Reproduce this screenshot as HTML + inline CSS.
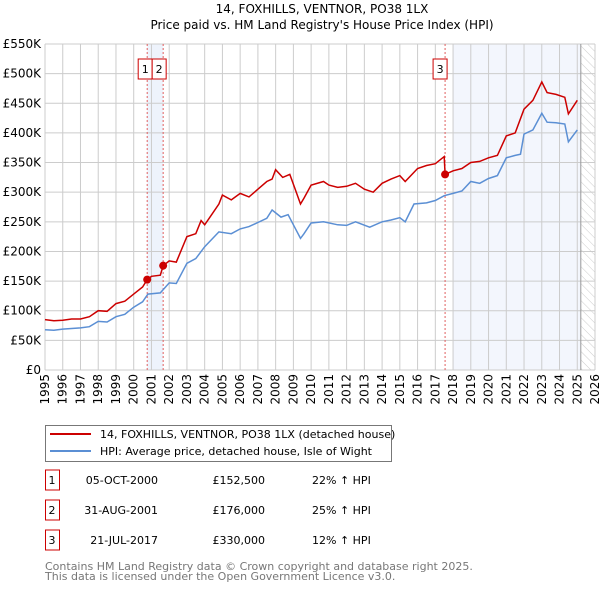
<!DOCTYPE html>
<html><head><meta charset="utf-8"><style>
body{margin:0;background:#fff;font-family:"DejaVu Sans","Liberation Sans",sans-serif;}
svg text{font-family:"DejaVu Sans","Liberation Sans",sans-serif;}
</style></head><body>
<svg id="chart" width="600" height="590" xmlns="http://www.w3.org/2000/svg">
<defs><pattern id="hatch" width="6" height="6" patternUnits="userSpaceOnUse" patternTransform="rotate(-45)"><line x1="0" y1="0" x2="0" y2="6" stroke="#ccc" stroke-width="1"/></pattern></defs>
<text x="322" y="13" text-anchor="middle" font-size="12">14, FOXHILLS, VENTNOR, PO38 1LX</text>
<text x="322" y="29" text-anchor="middle" font-size="12">Price paid vs. HM Land Registry's House Price Index (HPI)</text>
<g id="bg"></g><g id="grid"></g><g id="series"></g><g id="axes"></g>
<g>
<rect x="45.5" y="425.5" width="346" height="36" fill="#fff" stroke="#777"/>
<line x1="50" y1="434" x2="91" y2="434" stroke="#cc0000" stroke-width="2"/>
<text x="100" y="438" font-size="11">14, FOXHILLS, VENTNOR, PO38 1LX (detached house)</text>
<line x1="50" y1="451" x2="91" y2="451" stroke="#5b8fd4" stroke-width="2"/>
<text x="100" y="455" font-size="11">HPI: Average price, detached house, Isle of Wight</text>
</g>
<g id="table" font-size="11"></g>
<text x="45" y="570" font-size="11" fill="#777">Contains HM Land Registry data © Crown copyright and database right 2025.</text>
<text x="45" y="580" font-size="11" fill="#777">This data is licensed under the Open Government Licence v3.0.</text>
</svg>
<script>
const yTickValues=[0,50,100,150,200,250,300,350,400,450,500,550];
const yTickLabels=["£0","£50K","£100K","£150K","£200K","£250K","£300K","£350K","£400K","£450K","£500K","£550K"];
const xTickYears=[1995,1996,1997,1998,1999,2000,2001,2002,2003,2004,2005,2006,2007,2008,2009,2010,2011,2012,2013,2014,2015,2016,2017,2018,2019,2020,2021,2022,2023,2024,2025,2026];
const propYears=[1995,1995.5,1996,1996.5,1997,1997.5,1998,1998.5,1999,1999.5,2000,2000.5,2000.76,2001,2001.5,2001.66,2002,2002.4,2003,2003.5,2003.8,2004,2004.3,2004.8,2005,2005.5,2006,2006.5,2007,2007.5,2007.8,2008,2008.4,2008.8,2009.1,2009.4,2009.6,2010,2010.7,2011,2011.5,2012,2012.5,2013,2013.5,2014,2014.5,2015,2015.3,2016,2016.5,2017,2017.5,2017.55,2018,2018.5,2019,2019.5,2020,2020.5,2021,2021.5,2022,2022.5,2023,2023.3,2023.8,2024.3,2024.5,2025];
const propValues=[85,83,84,86,86,90,100,99,112,116,128,140,152.5,158,160,176,184,182,225,230,252,245,258,280,295,287,298,292,305,318,322,338,325,330,305,280,290,312,318,312,308,310,315,305,300,315,322,328,318,340,345,348,360,330,336,340,350,352,358,362,395,400,440,455,486,468,465,460,432,455];
const hpiYears=[1995,1995.5,1996,1996.5,1997,1997.5,1998,1998.5,1999,1999.5,2000,2000.5,2000.8,2001.5,2002,2002.4,2003,2003.5,2004,2004.8,2005.5,2006,2006.5,2007.5,2007.8,2008.3,2008.7,2009.0,2009.4,2009.6,2010,2010.7,2011.5,2012,2012.5,2013.3,2014,2014.5,2015,2015.3,2015.8,2016.5,2017,2017.5,2018,2018.5,2019,2019.5,2020,2020.5,2021,2021.5,2021.8,2022,2022.5,2023,2023.3,2023.8,2024.3,2024.5,2025];
const hpiValues=[68,67,69,70,71,73,82,81,90,94,106,115,128,130,147,146,180,188,208,233,230,238,242,256,270,258,262,245,222,230,248,250,245,244,250,241,250,253,257,250,280,282,286,294,298,302,318,315,323,328,358,362,364,398,405,433,418,417,415,385,405];
const saleYears=[2000.76,2001.66,2017.55];
const saleValues=[152.5,176,330];
const saleLabels=["1","2","3"];
const saleDates=["05-OCT-2000","31-AUG-2001","21-JUL-2017"];
const salePrices=["£152,500","£176,000","£330,000"];
const saleDiffs=["22% ↑ HPI","25% ↑ HPI","12% ↑ HPI"];
const NS="http://www.w3.org/2000/svg";
const L=45,R=595,T=44,B=370;
const xs=y=>L+(y-1995)*(R-L)/31;
const ys=v=>B-v*(B-T)/550;
function mk(tag,attrs,parent){const e=document.createElementNS(NS,tag);for(const k in attrs)e.setAttribute(k,attrs[k]);parent.appendChild(e);return e;}
const bg=document.getElementById('bg'),grid=document.getElementById('grid'),ser=document.getElementById('series'),axes=document.getElementById('axes');
mk('rect',{x:L,y:T,width:R-L,height:B-T,fill:'#fff'},bg);
let r=mk('rect',{x:xs(saleYears[0]),y:T,width:xs(saleYears[1])-xs(saleYears[0]),height:B-T,fill:'#eef3fc'},bg);

r=mk('rect',{x:xs(2018),y:T,width:xs(2025.2)-xs(2018),height:B-T,fill:'#f3f6fd'},bg);

r=mk('rect',{x:xs(2025.2),y:T,width:R-xs(2025.2),height:B-T,fill:'url(#hatch)'},bg);

yTickValues.forEach((v,i)=>{
  mk('line',{x1:L,x2:R,y1:ys(v),y2:ys(v),stroke:'#ccc','stroke-width':1},grid);
  const t=mk('text',{x:L-4,y:ys(v)+4,'text-anchor':'end','font-size':12},axes);t.textContent=yTickLabels[i];
  
});
xTickYears.forEach(y=>{
  mk('line',{x1:xs(y),x2:xs(y),y1:T,y2:B,stroke:'#ccc','stroke-width':1},grid);
  const t=mk('text',{x:0,y:0,'text-anchor':'end','font-size':12,transform:`translate(${xs(y)+4},${B+4}) rotate(-90)`},axes);t.textContent=y;
  
});
mk('line',{x1:xs(2025.2),x2:xs(2025.2),y1:T,y2:B,stroke:'#999','stroke-width':1},grid);
saleYears.forEach((y,i)=>{
  mk('line',{x1:xs(y),x2:xs(y),y1:T,y2:B,stroke:'#e06060','stroke-width':1,'stroke-dasharray':'2,2'},grid);
});
function path(xa,va,color,name){
  const d=xa.map((y,i)=>(i?'L':'M')+xs(y).toFixed(1)+','+ys(va[i]).toFixed(1)).join('');
  const p=mk('path',{d,fill:'none',stroke:color,'stroke-width':1.5},ser);
  
}
path(hpiYears,hpiValues,'#5b8fd4','hpi-line');
path(propYears,propValues,'#cc0000','property-price-line');
const offs=[-2,-4,-5];
saleYears.forEach((y,i)=>{
  const c=mk('circle',{cx:xs(y),cy:ys(saleValues[i]),r:4,fill:'#cc0000'},ser);
  
  const bx=xs(y)+offs[i]-7;
  const b=mk('rect',{x:bx,y:59,width:14,height:20,fill:'#fff',stroke:'#cc0000'},ser);
  
  const t=mk('text',{x:bx+7,y:73,'text-anchor':'middle','font-size':11},ser);t.textContent=saleLabels[i];
});
const tb=document.getElementById('table');
saleLabels.forEach((s,i)=>{
  const y=483+i*30;
  const b=mk('rect',{x:45.5,y:y-13,width:14,height:20,fill:'#fff',stroke:'#cc0000'},tb);
  
  let t=mk('text',{x:52,y:y+1,'text-anchor':'middle'},tb);t.textContent=s;
  t=mk('text',{x:158,y:y+1,'text-anchor':'end'},tb);t.textContent=saleDates[i];
  
  t=mk('text',{x:265,y:y+1,'text-anchor':'end'},tb);t.textContent=salePrices[i];
  
  t=mk('text',{x:312,y:y+1},tb);t.textContent=saleDiffs[i];
  
});
</script>
</body></html>
